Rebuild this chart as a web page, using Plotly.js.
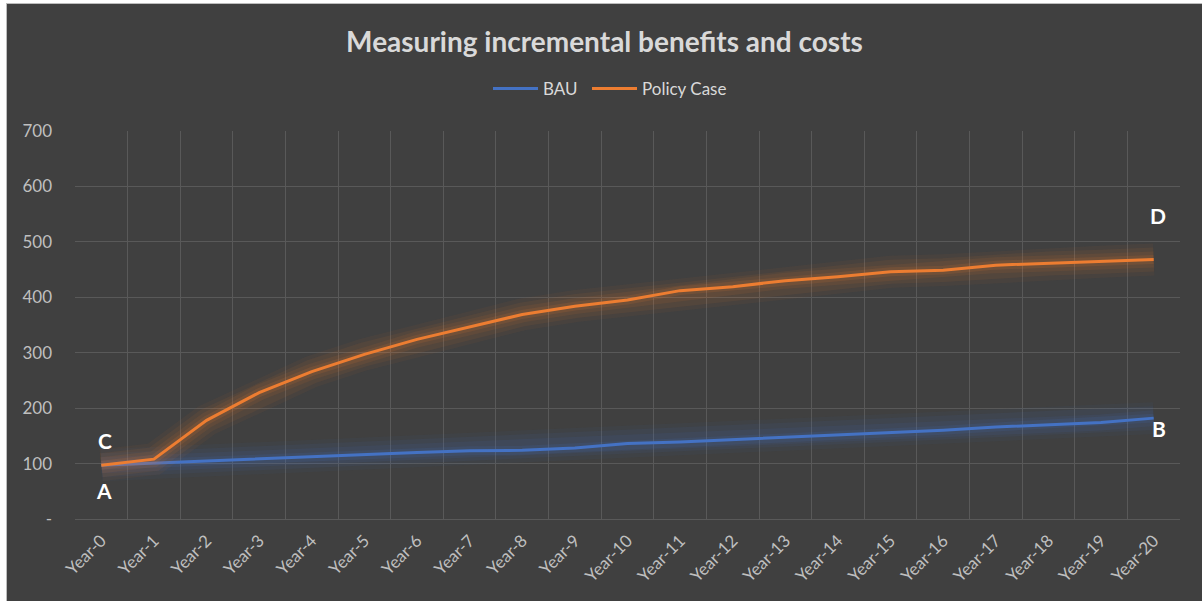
<!DOCTYPE html>
<html>
<head>
<meta charset="utf-8">
<script src="https://cdn.plot.ly/plotly-3.0.1.min.js"></script>
<style>
  html, body { margin: 0; padding: 0; background: #ffffff; width: 1202px; height: 601px; overflow: hidden; }
  #frame { position: absolute; left: 6px; top: 3px; width: 1196px; height: 598px; border-left: 1px solid #bdbdbd; border-top: 1px solid #bdbdbd; box-sizing: border-box; }
  #chart { position: absolute; left: 7px; top: 4px; width: 1195px; height: 597px; }
</style>
</head>
<body>
<div id="frame"></div>
<div id="chart"></div>
<script>
const years = ["Year-0","Year-1","Year-2","Year-3","Year-4","Year-5","Year-6","Year-7","Year-8","Year-9","Year-10",
               "Year-11","Year-12","Year-13","Year-14","Year-15","Year-16","Year-17","Year-18","Year-19","Year-20"];
const bau = [97, 101, 104, 108, 112, 116, 120, 123, 124, 128, 136, 139, 143, 147, 152, 156, 160, 166, 170, 174, 182];
const policyCase = [97, 108, 178, 228, 266, 297, 324, 346, 369, 384, 395, 412, 419, 430, 437, 446, 449, 458, 461, 464, 468];
const yTickVals = [0, 100, 200, 300, 400, 500, 600, 700];
const yTickText = ["-", "100", "200", "300", "400", "500", "600", "700"];
const seriesNames = ["BAU", "Policy Case"];
const pointLabels = ["A", "B", "C", "D"];

const blue = "#4472C4", orange = "#ED7D31";
const glowLayers = [{w: 32, a: 0.05}, {w: 24, a: 0.07}, {w: 16, a: 0.09}, {w: 9, a: 0.12}];

function glow(y, color) {
  return glowLayers.map(g => ({
    x: years, y: y, type: "scatter", mode: "lines", showlegend: false, hoverinfo: "skip",
    opacity: g.a, line: {color: color, width: g.w}
  }));
}

const traces = [
  ...glow(bau, blue),
  {x: years, y: bau, type: "scatter", mode: "lines", name: seriesNames[0], legend: "legend", line: {color: blue, width: 3}},
  ...glow(policyCase, orange),
  {x: years, y: policyCase, type: "scatter", mode: "lines", name: seriesNames[1], legend: "legend2", line: {color: orange, width: 3}}
];

const fam = "Lato, 'Open Sans', sans-serif";
const labelFont = {family: fam, size: 21, color: "#ffffff", weight: "bold"};
const last = years.length - 1;
const legendBase = {
  orientation: "h", xanchor: "left", y: 1 + 42/388, yanchor: "middle", itemwidth: 45,
  font: {size: 17, color: "#d9d9d9"}, bgcolor: "rgba(0,0,0,0)"
};

const layout = {
  width: 1195, height: 597,
  paper_bgcolor: "#404040", plot_bgcolor: "#404040",
  margin: {l: 68, r: 22, t: 127, b: 82},
  font: {family: fam, color: "#bfbfbf"},
  title: {
    text: "<b>Measuring incremental benefits and costs</b>",
    font: {family: fam, size: 28, color: "#d9d9d9"},
    x: 0.5, xanchor: "center", y: 1 - 38/597, yanchor: "middle"
  },
  showlegend: true,
  legend: Object.assign({}, legendBase, {x: 413 / 1105}),
  legend2: Object.assign({}, legendBase, {x: 512 / 1105}),
  xaxis: {
    type: "category", tickson: "boundaries", showgrid: true, gridcolor: "#595959", gridwidth: 1,
    showline: true, linecolor: "#595959", ticks: "", tickangle: -45,
    tickfont: {size: 17, color: "#bfbfbf"}, ticklabelstandoff: 4,
    range: [-0.5, 20.5], fixedrange: true
  },
  yaxis: {
    range: [0, 700], tickvals: yTickVals, ticktext: yTickText,
    showgrid: true, gridcolor: "#595959", gridwidth: 1, zeroline: false,
    tickfont: {size: 17, color: "#bfbfbf"}, ticks: "", ticklabelstandoff: 22, fixedrange: true
  },
  annotations: [
    {x: years[0], y: 52, text: "<b>" + pointLabels[0] + "</b>", showarrow: false, xshift: 3, font: labelFont},
    {x: years[last], y: 164, text: "<b>" + pointLabels[1] + "</b>", showarrow: false, xshift: 5, font: labelFont},
    {x: years[0], y: 141, text: "<b>" + pointLabels[2] + "</b>", showarrow: false, xshift: 4, font: labelFont},
    {x: years[last], y: 547, text: "<b>" + pointLabels[3] + "</b>", showarrow: false, xshift: 4, font: labelFont}
  ]
};

Plotly.newPlot("chart", traces, layout, {displayModeBar: false, staticPlot: true});
</script>
</body>
</html>
